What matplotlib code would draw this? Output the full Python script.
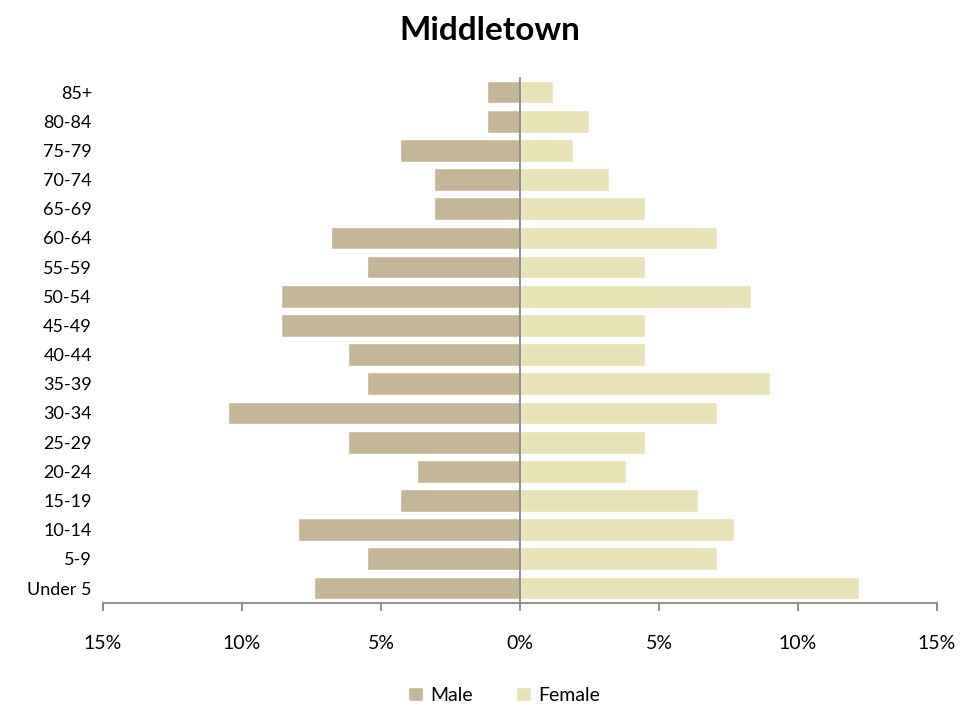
import matplotlib
matplotlib.use("Agg")
import matplotlib.pyplot as plt
import numpy as np

# ── Data (percent of population) ────────────────────────────────
age_groups = ["Under 5", "5-9", "10-14", "15-19", "20-24", "25-29", "30-34",
              "35-39", "40-44", "45-49", "50-54", "55-59", "60-64", "65-69",
              "70-74", "75-79", "80-84", "85+"]
male   = [7.4, 5.5, 8.0, 4.3, 3.7, 6.2, 10.5, 5.5, 6.2, 8.6, 8.6, 5.5, 6.8,
          3.1, 3.1, 4.3, 1.2, 1.2]
female = [12.2, 7.1, 7.7, 6.4, 3.8, 4.5, 7.1, 9.0, 4.5, 4.5, 8.3, 4.5, 7.1,
          4.5, 3.2, 1.9, 2.5, 1.2]
tick_vals = [-15, -10, -5, 0, 5, 10, 15]

MALE_C   = "#C4B696"
FEMALE_C = "#E8E2B7"
GRID_C   = "#868686"

plt.rcParams["font.family"] = ["Lato", "DejaVu Sans"]

fig = plt.figure(figsize=(9.79, 7.13), dpi=100)
ax = fig.add_axes([0.1052, 0.1548, 0.8519, 0.7366])

y = np.arange(len(age_groups))
ax.barh(y, [-m for m in male], height=0.78, color=MALE_C,
        edgecolor="white", linewidth=1, label="Male")
ax.barh(y, female, height=0.78, color=FEMALE_C,
        edgecolor="white", linewidth=1, label="Female")

ax.axvline(0, color=GRID_C, linewidth=1.3)
ax.set_xlim(-15, 15)
ax.set_ylim(-0.5, len(age_groups) - 0.5)

ax.set_yticks(y)
ax.set_yticklabels(age_groups, fontsize=13)
ax.tick_params(axis="y", length=0, pad=8)

ax.set_xticks(tick_vals)
ax.set_xticklabels([f"{abs(v)}%" for v in tick_vals], fontsize=14)
ax.tick_params(axis="x", length=6, width=1.3, color=GRID_C, pad=17)

for side in ["top", "right", "left"]:
    ax.spines[side].set_visible(False)
ax.spines["bottom"].set_color(GRID_C)
ax.spines["bottom"].set_linewidth(1.3)

fig.suptitle("Middletown", fontsize=24, fontweight="bold", y=0.978)

fig.legend(loc="lower center", bbox_to_anchor=(0.515, -0.012), ncol=2,
           frameon=False, fontsize=14, handlelength=0.75, handleheight=0.75,
           handletextpad=0.4, columnspacing=2.2)

plt.savefig("out.png", dpi=100)
plt.close()
